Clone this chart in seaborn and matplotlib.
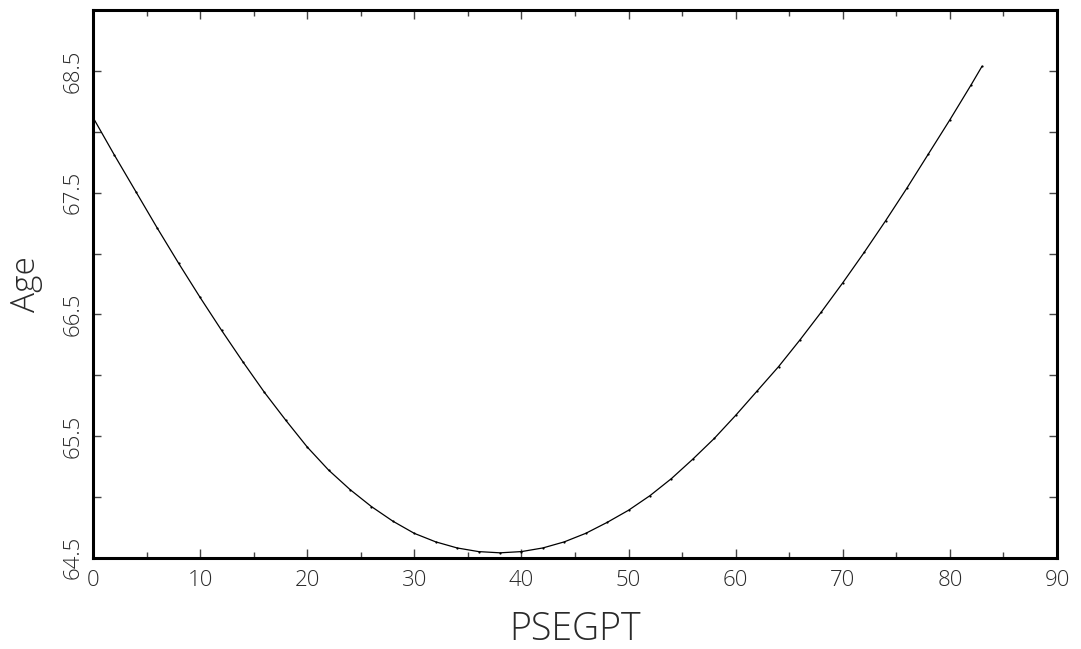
import matplotlib
matplotlib.use("Agg")
import matplotlib.pyplot as plt
from matplotlib.ticker import MultipleLocator, FixedLocator
import seaborn as sns
import pandas as pd

psegpt = [0, 2, 4, 6, 8, 10, 12, 14, 16, 18, 20, 22, 24, 26, 28, 30, 32, 34, 36,
          38, 40, 42, 44, 46, 48, 50, 52, 54, 56, 58, 60, 62, 64, 66, 68, 70, 72,
          74, 76, 78, 80, 82, 83]
age = [68.12, 67.81, 67.51, 67.21, 66.92, 66.64, 66.37, 66.11, 65.86, 65.63,
       65.41, 65.22, 65.06, 64.92, 64.80, 64.70, 64.63, 64.58, 64.55, 64.54,
       64.55, 64.58, 64.63, 64.70, 64.79, 64.89, 65.01, 65.15, 65.31, 65.48,
       65.67, 65.87, 66.07, 66.29, 66.52, 66.76, 67.01, 67.27, 67.54, 67.82,
       68.10, 68.39, 68.54]
ytick_labels = [64.5, 65.5, 66.5, 67.5, 68.5]
xtick_labels = [0, 10, 20, 30, 40, 50, 60, 70, 80, 90]

df = pd.DataFrame({"PSEGPT": psegpt, "Age": age})

sns.set_theme(style="ticks")
plt.rcParams["font.family"] = ["Open Sans", "DejaVu Sans"]

TXT = "#2a2a2a"
fig = plt.figure(figsize=(10.81, 6.49), dpi=100)
ax = fig.add_axes([0.086, 0.1407, 0.8918, 0.8434])

sns.lineplot(data=df, x="PSEGPT", y="Age", ax=ax, color="black", linewidth=0.9,
             marker="o", markersize=1.6, markeredgewidth=0, estimator=None)

ax.set_xlim(0, 90)
ax.set_ylim(64.5, 69)

ax.xaxis.set_major_locator(FixedLocator(xtick_labels))
ax.xaxis.set_minor_locator(MultipleLocator(5))
ax.yaxis.set_major_locator(FixedLocator(ytick_labels))
ax.yaxis.set_minor_locator(MultipleLocator(0.5))
ax.set_xticklabels([str(v) for v in xtick_labels])
ax.set_yticklabels([f"{v:.1f}" for v in ytick_labels], rotation=90, va="center")

for s in ax.spines.values():
    s.set_visible(True)
    s.set_color("black")
    s.set_linewidth(2.2)

ax.tick_params(axis="both", which="both", direction="in", top=True, right=True,
               color="#444444", width=1.0, labelcolor=TXT)
ax.tick_params(axis="x", which="major", length=6.5, pad=9, labelsize=16)
ax.tick_params(axis="x", which="minor", length=4.3)
ax.tick_params(axis="y", which="both", length=6, pad=7, labelsize=16)

for lab in ax.get_xticklabels() + ax.get_yticklabels():
    lab.set_fontweight(300)
    lab.set_color(TXT)

ax.set_xlabel("PSEGPT", fontsize=27, color=TXT, fontweight=300, labelpad=14)
ax.set_ylabel("Age", fontsize=24, color=TXT, fontweight=300, labelpad=14)

fig.savefig("out.png", dpi=100, facecolor="white")
